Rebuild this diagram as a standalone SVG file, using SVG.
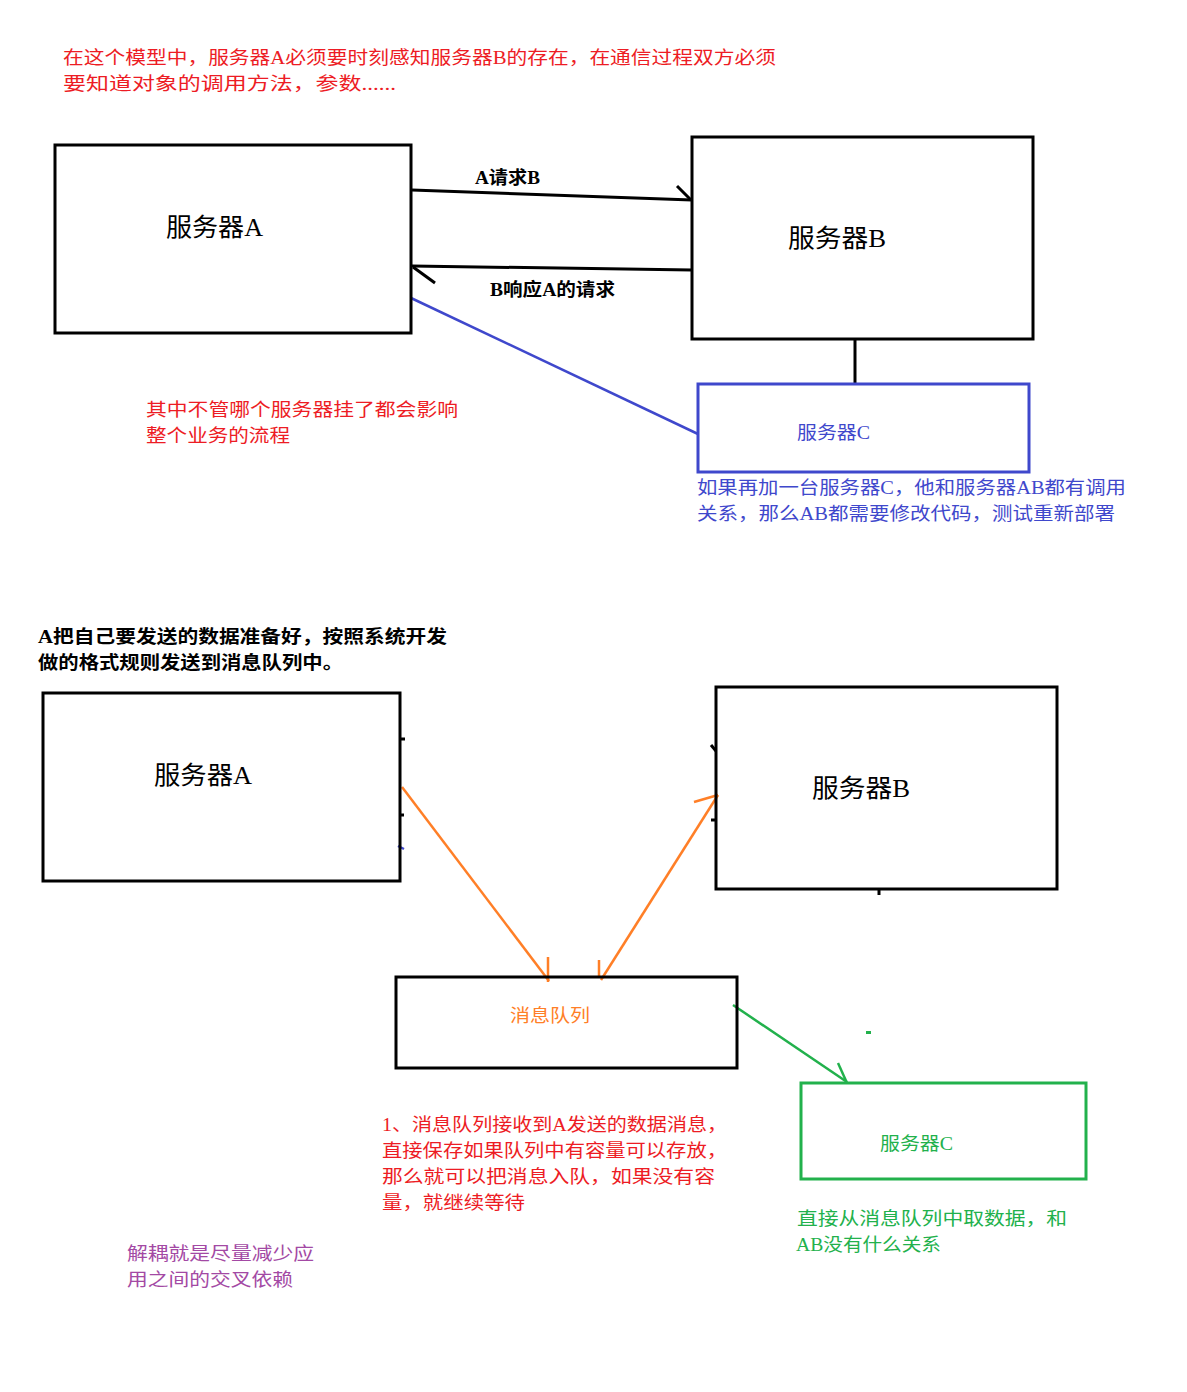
<svg xmlns="http://www.w3.org/2000/svg" width="1187" height="1392" viewBox="0 0 1187 1392">
<style>
text{font-family:"Liberation Serif","Noto Sans CJK SC",serif;}
.t{font-size:18px;}
.b{font-weight:bold;}
.big{font-size:25px;}
.box{fill:none;stroke:#000;stroke-width:3;}
.red{fill:#ed1c24;}
.blue{fill:#3f48cc;}
.org{fill:#ff7f27;}
.grn{fill:#22b14c;}
.pur{fill:#a349a4;}
.blk{fill:#000;}
.k{stroke:#000;stroke-width:3;fill:none;}
.bl{stroke:#3f48cc;stroke-width:2.5;fill:none;}
.o{stroke:#ff7f27;stroke-width:2.5;fill:none;}
.g{stroke:#22b14c;stroke-width:2.5;fill:none;}
</style>
<rect width="1187" height="1392" fill="#fff"/>
<g id="notes">
<text class="t red" x="63" y="64" textLength="713" lengthAdjust="spacingAndGlyphs">在这个模型中，服务器A必须要时刻感知服务器B的存在，在通信过程双方必须</text>
<text class="t red" x="63" y="90" textLength="333" lengthAdjust="spacingAndGlyphs">要知道对象的调用方法，参数......</text>
<text class="t red" x="146" y="416" textLength="312" lengthAdjust="spacingAndGlyphs">其中不管哪个服务器挂了都会影响</text>
<text class="t red" x="146" y="442" textLength="144" lengthAdjust="spacingAndGlyphs">整个业务的流程</text>
<text class="t blue" x="697" y="494" textLength="429" lengthAdjust="spacingAndGlyphs">如果再加一台服务器C，他和服务器AB都有调用</text>
<text class="t blue" x="697" y="520" textLength="418" lengthAdjust="spacingAndGlyphs">关系，那么AB都需要修改代码，测试重新部署</text>
<text class="t blk b" x="38" y="643" textLength="409" lengthAdjust="spacingAndGlyphs">A把自己要发送的数据准备好，按照系统开发</text>
<text class="t blk b" x="38" y="669" textLength="305" lengthAdjust="spacingAndGlyphs">做的格式规则发送到消息队列中。</text>
<text class="t red" x="382" y="1131" textLength="345" lengthAdjust="spacingAndGlyphs">1、消息队列接收到A发送的数据消息，</text>
<text class="t red" x="382" y="1157" textLength="345" lengthAdjust="spacingAndGlyphs">直接保存如果队列中有容量可以存放，</text>
<text class="t red" x="382" y="1183" textLength="333" lengthAdjust="spacingAndGlyphs">那么就可以把消息入队，如果没有容</text>
<text class="t red" x="382" y="1209" textLength="143" lengthAdjust="spacingAndGlyphs">量，就继续等待</text>
<text class="t grn" x="797" y="1225" textLength="270" lengthAdjust="spacingAndGlyphs">直接从消息队列中取数据，和</text>
<text class="t grn" x="796" y="1251" textLength="145" lengthAdjust="spacingAndGlyphs">AB没有什么关系</text>
<text class="t pur" x="127" y="1260" textLength="187" lengthAdjust="spacingAndGlyphs">解耦就是尽量减少应</text>
<text class="t pur" x="127" y="1286" textLength="166" lengthAdjust="spacingAndGlyphs">用之间的交叉依赖</text>
</g>
<g id="connectors">
<line class="k" x1="412" y1="190" x2="692" y2="200"/>
<line class="k" x1="677" y1="186" x2="691" y2="200"/>
<line class="k" x1="692" y1="270" x2="412" y2="266"/>
<line class="k" x1="413" y1="267" x2="435" y2="283"/>
<line class="bl" x1="411" y1="298" x2="698" y2="434"/>
<line class="k" x1="855" y1="339" x2="855" y2="384"/>
<line class="o" x1="402" y1="787" x2="549" y2="981"/>
<line class="o" x1="548" y1="957" x2="548" y2="982"/>
<line class="o" x1="601" y1="980" x2="718" y2="795"/>
<line class="o" x1="599" y1="960" x2="599" y2="977"/>
<line class="o" x1="694" y1="802" x2="718" y2="795"/>
<line class="g" x1="733" y1="1005" x2="847" y2="1082"/>
<line class="g" x1="838" y1="1063" x2="847" y2="1083"/>
<rect x="866" y="1031" width="5" height="3" fill="#22b14c"/>
<line class="k" x1="400" y1="739" x2="405" y2="739" stroke-width="2"/>
<line class="k" x1="400" y1="815" x2="404" y2="815" stroke-width="2"/>
<line class="bl" x1="398" y1="846" x2="404" y2="849"/>
<line class="k" x1="711" y1="745" x2="716" y2="751" stroke-width="2"/>
<line class="k" x1="711" y1="820" x2="716" y2="820" stroke-width="2"/>
<line class="k" x1="879" y1="889" x2="879" y2="895"/>
</g>
<g id="serverA-top">
<rect class="box" x="55" y="145" width="356" height="188"/>
<text class="big blk" x="166" y="236" textLength="97" lengthAdjust="spacingAndGlyphs">服务器A</text>
</g>
<g id="serverB-top">
<rect class="box" x="692" y="137" width="341" height="202"/>
<text class="big blk" x="788" y="247" textLength="98" lengthAdjust="spacingAndGlyphs">服务器B</text>
</g>
<g id="label-req">
<text class="t blk b" x="475" y="184" font-size="17" textLength="65" lengthAdjust="spacingAndGlyphs">A请求B</text>
</g>
<g id="label-resp">
<text class="t blk b" x="490" y="296" font-size="17" textLength="125" lengthAdjust="spacingAndGlyphs">B响应A的请求</text>
</g>
<g id="serverC-top">
<rect x="698" y="384" width="331" height="88" fill="none" stroke="#3f48cc" stroke-width="3"/>
<text class="t blue" x="797" y="439" textLength="73" lengthAdjust="spacingAndGlyphs">服务器C</text>
</g>
<g id="serverA-bottom">
<rect class="box" x="43" y="693" width="357" height="188"/>
<text class="big blk" x="154" y="784" textLength="98" lengthAdjust="spacingAndGlyphs">服务器A</text>
</g>
<g id="serverB-bottom">
<rect class="box" x="716" y="687" width="341" height="202"/>
<text class="big blk" x="812" y="797" textLength="98" lengthAdjust="spacingAndGlyphs">服务器B</text>
</g>
<g id="queue">
<rect class="box" x="396" y="977" width="341" height="91"/>
<text class="t org" x="510" y="1022" textLength="80" lengthAdjust="spacingAndGlyphs">消息队列</text>
</g>
<g id="serverC-bottom">
<rect x="801" y="1083" width="285" height="96" fill="none" stroke="#22b14c" stroke-width="3"/>
<text class="t grn" x="880" y="1150" textLength="73" lengthAdjust="spacingAndGlyphs">服务器C</text>
</g>
</svg>
